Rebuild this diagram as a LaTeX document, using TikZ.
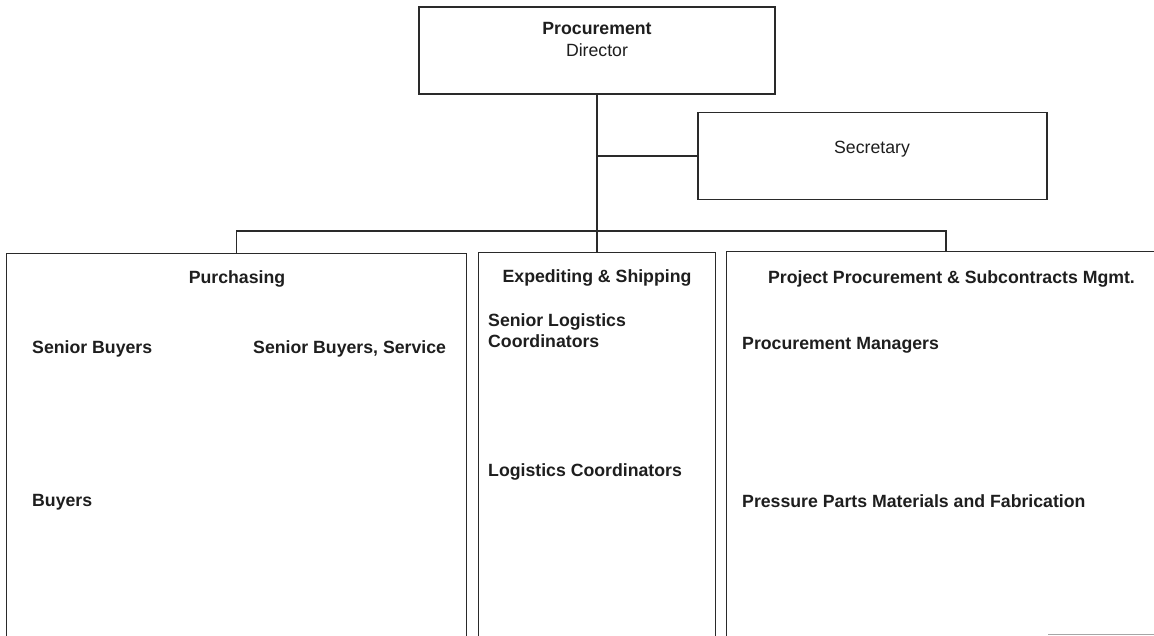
\documentclass[tikz,border=0pt]{standalone}
\usepackage{fontspec}
\setmainfont{Liberation Sans}
\definecolor{ink}{HTML}{2A2A2A}
\definecolor{txt}{HTML}{1E1E1E}
\begin{document}
\begin{tikzpicture}[x=1pt,y=-1pt,
  box/.style={draw=ink, line width=1.3pt, rectangle, inner sep=0pt},
  area/.style={draw=none, rectangle, inner sep=0pt},
  wire/.style={draw=ink, line width=1.6pt},
  frame/.style={draw=ink, line width=1.3pt},
  head/.style={text=txt, inner sep=0pt, font=\fontsize{17.7}{21}\selectfont\bfseries},
  plain/.style={text=txt, inner sep=0pt, font=\fontsize{17.7}{21}\selectfont},
  item/.style={head, anchor=base west, align=left}]
\useasboundingbox (0,0) rectangle (1154,635);
\fill[white] (0,0) rectangle (1154,635);

% top level boxes
\node[box, minimum width=356pt, minimum height=87pt] (dir) at (597,50.5) {};
\node[box, minimum width=349pt, minimum height=87pt] (sec) at (872.5,156) {};

% department areas (open at the bottom of the chart)
\node[area, minimum width=459pt, minimum height=386pt] (purch) at (236.5,447) {};
\node[area, minimum width=236pt, minimum height=387pt] (exp) at (597,446.5) {};
\node[area, minimum width=438pt, minimum height=388pt] (proj) at (946,446) {};

\draw[frame] (purch.south west) |- (purch.north east) -- (purch.south east);
\draw[frame] (exp.south west) |- (exp.north east) -- (exp.south east);
\draw[frame] (proj.south west) |- (proj.north east);

% reporting lines
\coordinate (bus) at (597,231);
\draw[wire] (dir.south) -- (exp.north);
\draw[wire] (sec.west) -- (sec.west -| dir.south);
\draw[wire] (purch.north) |- (bus) -| (proj.north);

% box texts
\node[head, anchor=base] (tdir) at (597,34) {Procurement};
\node[plain, anchor=base] (tdir2) at (597,56) {Director};
\node[plain, anchor=base] (tsec) at (872,153) {Secretary};

\node[head, anchor=base] (hpurch) at (237,283) {Purchasing};
\node[head, anchor=base] (hexp) at (597,282) {Expediting \& Shipping};
\node[head, anchor=base] (hproj) at (951.5,283) {Project Procurement \& Subcontracts Mgmt.};

\node[item] (sb) at (32,353) {Senior Buyers};
\node[item] (sbs) at (253,353) {Senior Buyers, Service};
\node[item] (by) at (32,506) {Buyers};

\node[item] (slc) at (488,347) {Senior Logistics\\Coordinators};
\node[item] (lc) at (488,476) {Logistics Coordinators};

\node[item] (pm) at (742,349) {Procurement Managers};
\node[item] (pp) at (742,507) {Pressure Parts Materials and Fabrication};

% short rule at the lower right edge
\coordinate (rs) at (1048,634);
\coordinate (re) at (1154,634);
\draw[draw=gray!70, line width=1pt] (rs) -- (re);
\end{tikzpicture}
\end{document}
